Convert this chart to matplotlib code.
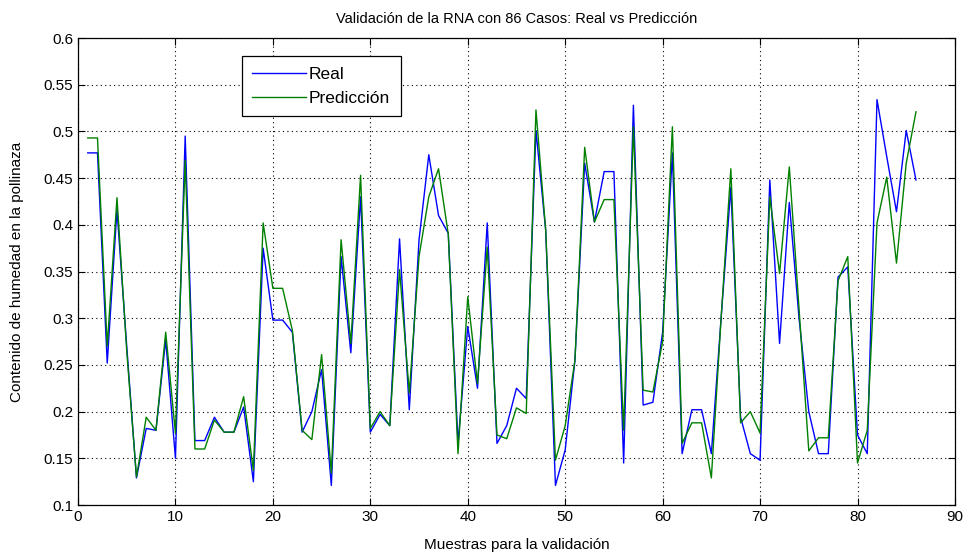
import matplotlib
matplotlib.use("Agg")
import matplotlib.pyplot as plt

# muestras 1..86
muestras = list(range(1, 87))

real = [
    0.477, 0.477, 0.252, 0.416, 0.27, 0.129, 0.182, 0.18, 0.277, 0.15,
    0.495, 0.169, 0.169, 0.194, 0.178, 0.178, 0.205, 0.125, 0.375, 0.298,
    0.298, 0.285, 0.178, 0.2, 0.245, 0.121, 0.366, 0.263, 0.43, 0.178,
    0.197, 0.185, 0.385, 0.202, 0.384, 0.475, 0.41, 0.391, 0.166, 0.291,
    0.225, 0.402, 0.166, 0.185, 0.225, 0.214, 0.501, 0.394, 0.121, 0.159,
    0.255, 0.466, 0.403, 0.457, 0.457, 0.145, 0.528, 0.207, 0.21, 0.285,
    0.477, 0.155, 0.202, 0.202, 0.155, 0.3, 0.44, 0.194, 0.155, 0.148,
    0.448, 0.273, 0.424, 0.3, 0.2, 0.155, 0.155, 0.344, 0.355, 0.175,
    0.155, 0.534, 0.473, 0.414, 0.501, 0.448,
]

prediccion = [
    0.493, 0.493, 0.27, 0.429, 0.265, 0.13, 0.194, 0.18, 0.285, 0.177,
    0.469, 0.16, 0.16, 0.191, 0.178, 0.178, 0.216, 0.137, 0.402, 0.332,
    0.332, 0.287, 0.18, 0.17, 0.261, 0.134, 0.384, 0.273, 0.453, 0.182,
    0.2, 0.185, 0.352, 0.22, 0.366, 0.43, 0.46, 0.39, 0.155, 0.323,
    0.23, 0.376, 0.175, 0.171, 0.204, 0.198, 0.523, 0.394, 0.148, 0.185,
    0.255, 0.483, 0.403, 0.427, 0.427, 0.18, 0.505, 0.223, 0.221, 0.275,
    0.505, 0.166, 0.188, 0.188, 0.129, 0.3, 0.46, 0.188, 0.2, 0.177,
    0.43, 0.348, 0.462, 0.31, 0.158, 0.172, 0.172, 0.34, 0.366, 0.145,
    0.18, 0.402, 0.451, 0.359, 0.466, 0.521,
]

plt.rcParams['font.family'] = ['Liberation Sans', 'DejaVu Sans']
plt.rcParams['font.size'] = 10.5

fig = plt.figure(figsize=(9.69, 5.54), dpi=100)
ax = fig.add_axes([0.0805, 0.0884, 0.905, 0.843])

ax.plot(muestras, real, color='#0000ff', linewidth=1.0, label='Real')
ax.plot(muestras, prediccion, color='#008000', linewidth=1.0, label='Predicción')

ax.set_xlim(0, 90)
ax.set_ylim(0.1, 0.6)
ax.set_xticks(range(0, 91, 10))
ax.set_yticks([0.1 + 0.05 * i for i in range(11)])
ax.set_yticklabels(['0.1', '0.15', '0.2', '0.25', '0.3', '0.35', '0.4',
                    '0.45', '0.5', '0.55', '0.6'])

ax.grid(True, color='black', linestyle=(0, (1, 3)), linewidth=0.8)
ax.tick_params(direction='in', top=True, right=True, length=5, labelsize=11)
for s in ax.spines.values():
    s.set_linewidth(0.9)

ax.set_title('Validación de la RNA con 86 Casos: Real vs Predicción', fontsize=10.5, pad=11)
ax.set_xlabel('Muestras para la validación', fontsize=11, labelpad=10)
ax.set_ylabel('Contenido de humedad en la pollinaza', fontsize=11, labelpad=14)

leg = ax.legend(loc='upper left', bbox_to_anchor=(0.187, 0.961), borderaxespad=0,
                fancybox=False, framealpha=1, edgecolor='black', handlelength=3.1,
                fontsize=12.5, borderpad=0.6, labelspacing=0.5, handletextpad=0.15)
leg.get_frame().set_linewidth(0.9)

fig.savefig('out.png', dpi=100)
